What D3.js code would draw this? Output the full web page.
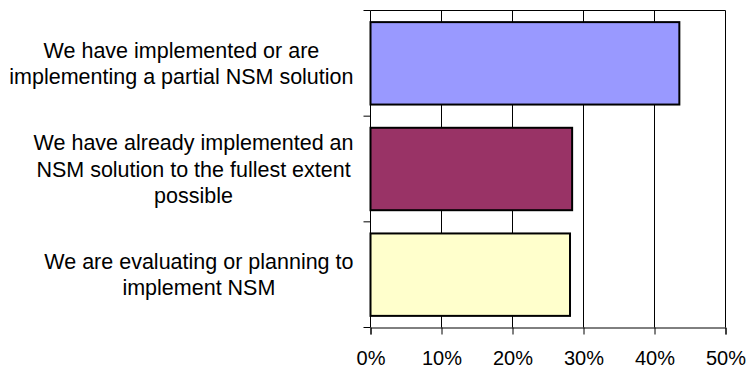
<!DOCTYPE html>
<html><head><meta charset="utf-8">
<script src="https://cdn.jsdelivr.net/npm/d3@7"></script>
<style>body{margin:0;background:#fff}svg{display:block}</style>
</head><body>
<svg id="chart" width="748" height="369"></svg>
<script>
const categories = [
  ["We have implemented or are", "implementing a partial NSM solution"],
  ["We have already implemented an", "NSM solution to the fullest extent", "possible"],
  ["We are evaluating or planning to", "implement NSM"]
];
const values = [43.5, 28.4, 28.1];
const colors = ["#9999FF", "#993366", "#FFFFCC"];
const tickValues = [0, 10, 20, 30, 40, 50];

const svg = d3.select("#chart");
const mLeft = 370.5, mRight = 725.5, mTop = 10.5, mBottom = 327.5;
const font = "'Liberation Sans', Arial, sans-serif";

const x = d3.scaleLinear().domain([0, 50]).range([mLeft, mRight]);
const y = d3.scaleBand().domain(d3.range(categories.length)).range([mTop, mBottom]).paddingInner(0.22).paddingOuter(0.11);

// gridlines
svg.append("g").selectAll("line").data(tickValues.slice(1)).join("line")
  .attr("x1", d => x(d)).attr("x2", d => x(d)).attr("y1", mTop).attr("y2", mBottom)
  .attr("stroke", "#000").attr("stroke-width", 1);
// top border
svg.append("line").attr("x1", mLeft).attr("x2", mRight).attr("y1", mTop).attr("y2", mTop).attr("stroke", "#000");

// bars
svg.append("g").selectAll("rect").data(values).join("rect")
  .attr("x", x(0)).attr("y", (d, i) => y(i))
  .attr("width", d => x(d) - x(0)).attr("height", y.bandwidth())
  .attr("fill", (d, i) => colors[i]).attr("stroke", "#000").attr("stroke-width", 2);

// x axis
const xAxis = d3.axisBottom(x).tickValues(tickValues).tickFormat(d => d + "%").tickSize(7).tickPadding(16);
const gx = svg.append("g").attr("transform", `translate(0,${mBottom})`).call(xAxis);
gx.select(".domain").attr("stroke", "#000");
gx.selectAll(".tick line").attr("stroke", "#000");
gx.selectAll("text").attr("font-family", font).attr("font-size", "20px").attr("fill", "#000");

// y axis line and category boundary ticks
svg.append("line").attr("x1", mLeft).attr("x2", mLeft).attr("y1", mTop).attr("y2", mBottom).attr("stroke", "#000");
const bounds = d3.range(categories.length + 1).map(i => mTop + i * (mBottom - mTop) / categories.length);
svg.append("g").selectAll("line").data(bounds).join("line")
  .attr("x1", mLeft - 7).attr("x2", mLeft).attr("y1", d => d).attr("y2", d => d).attr("stroke", "#000");

// category labels
const lineH = 26.3;
categories.forEach((lines, i) => {
  const cy = mTop + (i + 0.5) * (mBottom - mTop) / categories.length;
  const g = svg.append("g");
  const t = g.append("text").attr("font-family", font).attr("font-size", "21.5px").attr("fill", "#000").attr("text-anchor", "middle");
  lines.forEach((ln, j) => {
    t.append("tspan").attr("x", 0).attr("y", cy + (j - (lines.length - 1) / 2) * lineH).attr("dy", "0.35em").text(ln);
  });
  const w = t.node().getBBox().width;
  g.attr("transform", `translate(${mLeft - 17 - w / 2},0)`);
});
</script>
</body></html>
